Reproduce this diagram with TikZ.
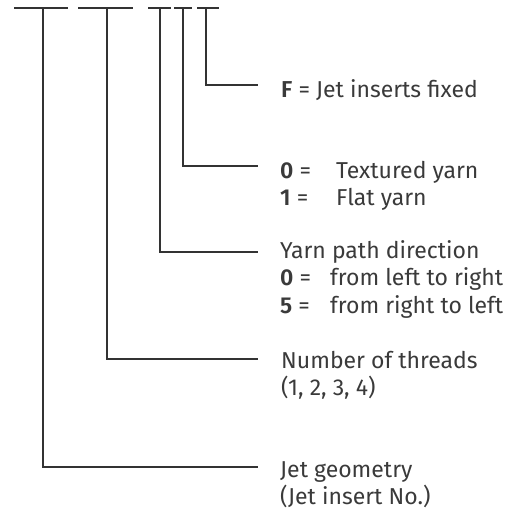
\documentclass[tikz,border=0pt]{standalone}
\usepackage{fontspec}
\setmainfont{Fira Sans}[BoldFont=* SemiBold]
\definecolor{ink}{HTML}{333333}
\definecolor{txt}{HTML}{3A3A3A}
\begin{document}
\begin{tikzpicture}[x=1pt,y=-1pt,
  lead/.style={draw=ink,line width=1.9pt,line cap=butt,line join=miter},
  bar/.style={draw=ink,line width=2.2pt},
  lbl/.style={anchor=base west,inner sep=0pt,text=txt,font=\fontsize{23}{27}\selectfont}]
\useasboundingbox (0,0) rectangle (521,512);
% top bars
\coordinate (b1l) at (14,8); \coordinate (b1r) at (68,8);
\coordinate (b2l) at (78,8); \coordinate (b2r) at (133,8);
\coordinate (b3l) at (148,8); \coordinate (b3r) at (171,8);
\coordinate (b4l) at (174,8); \coordinate (b4r) at (192,8);
\coordinate (b5l) at (197,8); \coordinate (b5r) at (219,8);
\draw[bar] (b1l) -- (b1r);
\draw[bar] (b2l) -- (b2r);
\draw[bar] (b3l) -- (b3r);
\draw[bar] (b4l) -- (b4r);
\draw[bar] (b5l) -- (b5r);
% leader end points
\coordinate (t1) at (43,8);  \coordinate (c1) at (43,467);  \coordinate (e1) at (258,467);
\coordinate (t2) at (107,8); \coordinate (c2) at (107,359); \coordinate (e2) at (258,359);
\coordinate (t3) at (160,8); \coordinate (c3) at (160,252); \coordinate (e3) at (258,252);
\coordinate (t4) at (183,8); \coordinate (c4) at (183,166); \coordinate (e4) at (258,166);
\coordinate (t5) at (206,8); \coordinate (c5) at (206,85);  \coordinate (e5) at (258,85);
\draw[lead] (t1) -- (c1) -- (e1);
\draw[lead] (t2) -- (c2) -- (e2);
\draw[lead] (t3) -- (c3) -- (e3);
\draw[lead] (t4) -- (c4) -- (e4);
\draw[lead] (t5) -- (c5) -- (e5);
% labels
\node[lbl] (f) at (281,97) {\textbf{F} = Jet inserts fixed};
\node[lbl] (k0) at (280,178) {\textbf{0} =};
\node[lbl] (v0) at (336,178) {Textured yarn};
\node[lbl] (k1) at (280,205) {\textbf{1} =};
\node[lbl] (v1) at (336,205) {Flat yarn};
\node[lbl] (yp) at (280,258) {Yarn path direction};
\node[lbl] (k2) at (280,285) {\textbf{0} =};
\node[lbl] (v2) at (330,285) {from left to right};
\node[lbl] (k3) at (280,313) {\textbf{5} =};
\node[lbl] (v3) at (330,313) {from right to left};
\node[lbl] (nt) at (281,368) {Number of threads};
\node[lbl] (nv) at (281,395) {(1, 2, 3, 4)};
\node[lbl] (jg) at (280,477) {Jet geometry};
\node[lbl] (jn) at (280,504) {(Jet insert No.)};
\end{tikzpicture}
\end{document}
